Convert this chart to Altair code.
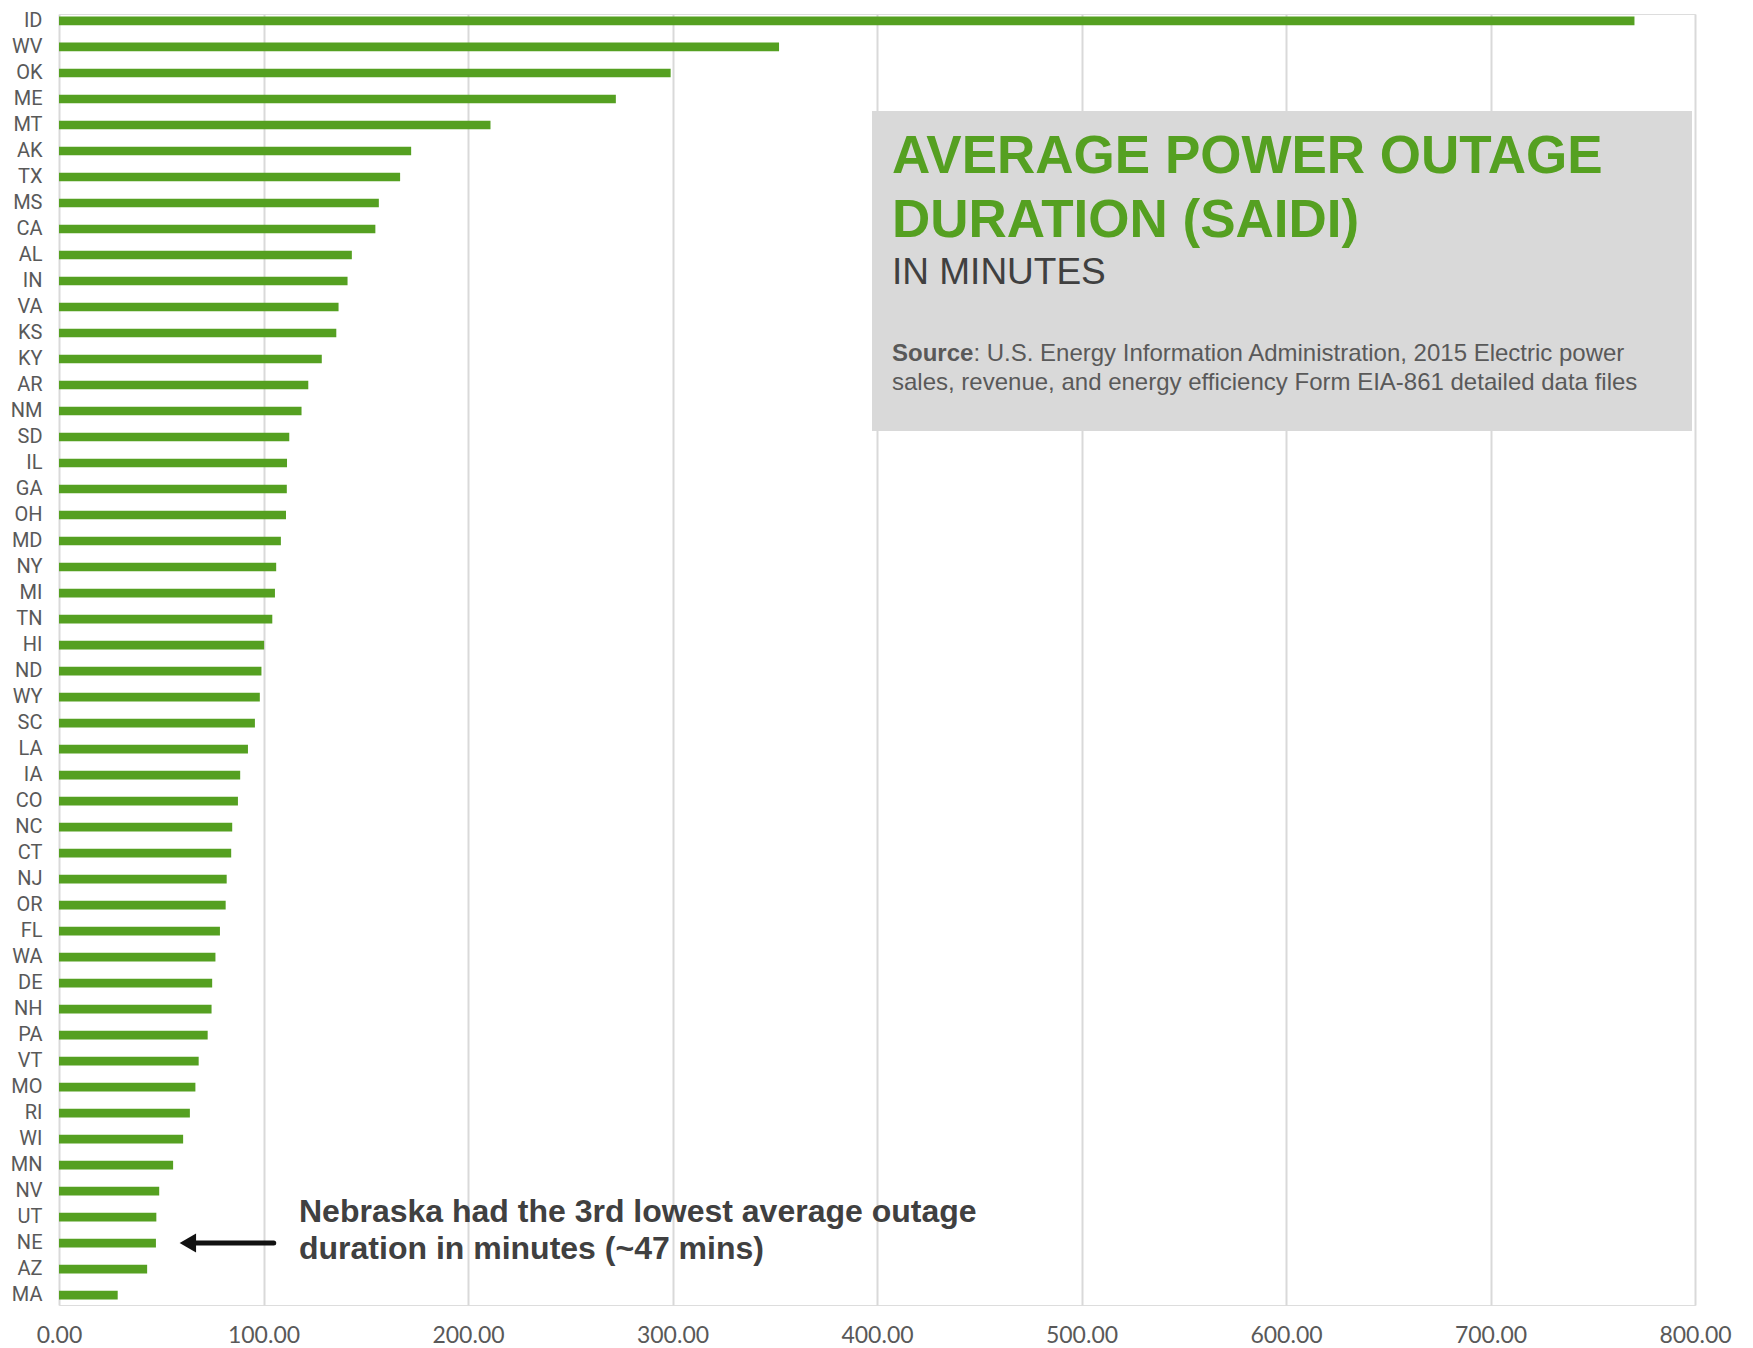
import altair as alt
import pandas as pd

states = ["ID", "WV", "OK", "ME", "MT", "AK", "TX", "MS", "CA", "AL",
          "IN", "VA", "KS", "KY", "AR", "NM", "SD", "IL", "GA", "OH",
          "MD", "NY", "MI", "TN", "HI", "ND", "WY", "SC", "LA", "IA",
          "CO", "NC", "CT", "NJ", "OR", "FL", "WA", "DE", "NH", "PA",
          "VT", "MO", "RI", "WI", "MN", "NV", "UT", "NE", "AZ", "MA"]
saidi = [770.4, 352.1, 299.1, 272.3, 211.0, 172.2, 166.8, 156.4, 154.7, 143.2,
         141.1, 136.7, 135.6, 128.5, 121.9, 118.6, 112.6, 111.5, 111.4, 111.0,
         108.5, 106.2, 105.6, 104.3, 100.3, 99.0, 98.2, 95.8, 92.4, 88.6,
         87.5, 84.7, 84.2, 82.0, 81.5, 78.7, 76.5, 74.9, 74.6, 72.7,
         68.3, 66.7, 64.0, 60.7, 55.8, 49.0, 47.6, 47.4, 43.1, 28.7]
x_ticks = [0, 100, 200, 300, 400, 500, 600, 700, 800]

title_lines = ["AVERAGE POWER OUTAGE", "DURATION (SAIDI)"]
subtitle = "IN MINUTES"
source_bold = "Source"
source_rest = [": U.S. Energy Information Administration, 2015 Electric power",
               "sales, revenue, and energy efficiency Form EIA-861 detailed data files"]
note_lines = ["Nebraska had the 3rd lowest average outage",
              "duration in minutes (~47 mins)"]
note_state = "NE"
arrow_from = 105.0
arrow_to = 63.0

GREEN = "#55A021"
TOP = 6
W, H = 1636, 1291

df = pd.DataFrame({"state": states, "saidi": saidi})

xs = alt.Scale(domain=[0, 800], nice=False, zero=True)
ys = alt.Scale(domain=states, paddingInner=0.665, paddingOuter=0.1575, align=0.32)

bars = alt.Chart(df).mark_bar(color=GREEN).encode(
    x=alt.X("saidi:Q", scale=xs, title=None,
            axis=alt.Axis(values=x_ticks, format=".2f", grid=True, gridColor="#D9D9D9",
                          gridWidth=2, domain=False, ticks=False, tickSize=0,
                          labelFont="Lato", labelFontSize=23, labelColor="#595959",
                          labelPadding=19, labelFlush=False)),
    y=alt.Y("state:N", scale=ys, sort=states, title=None,
            axis=alt.Axis(domain=False, ticks=False, tickSize=0, grid=False,
                          labelFont="Roboto", labelFontSize=20,
                          labelColor="#595959", labelPadding=17)),
)

box = alt.Chart(pd.DataFrame({"k": [0]})).mark_rect(color="#D9D9D9").encode(
    x=alt.value(813), x2=alt.value(1633), y=alt.value(103 - TOP), y2=alt.value(423 - TOP)
)

title_df = pd.DataFrame({"t": title_lines, "yy": [164.7 - TOP, 228.7 - TOP]})
title = alt.Chart(title_df).mark_text(
    align="left", baseline="alphabetic", font="Liberation Sans", fontWeight="bold",
    fontSize=53, color=GREEN
).encode(x=alt.value(833), y=alt.Y("yy:Q", scale=None), text="t:N")

sub = alt.Chart(pd.DataFrame({"t": [subtitle]})).mark_text(
    align="left", baseline="alphabetic", font="Liberation Sans", fontSize=37,
    color="#404040"
).encode(x=alt.value(833), y=alt.value(276 - TOP), text="t:N")

src_b = alt.Chart(pd.DataFrame({"t": [source_bold]})).mark_text(
    align="left", baseline="alphabetic", font="Liberation Sans", fontWeight="bold",
    fontSize=24, color="#595959"
).encode(x=alt.value(833), y=alt.value(353 - TOP), text="t:N")

src_df = pd.DataFrame({"t": source_rest, "xx": [833 + 81.4, 833],
                       "yy": [353 - TOP, 382 - TOP]})
src_r = alt.Chart(src_df).mark_text(
    align="left", baseline="alphabetic", font="Liberation Sans", fontSize=24,
    color="#595959"
).encode(x=alt.X("xx:Q", scale=None), y=alt.Y("yy:Q", scale=None), text="t:N")

note_df = pd.DataFrame({"t": note_lines, "yy": [1214 - TOP, 1251 - TOP]})
note = alt.Chart(note_df).mark_text(
    align="left", baseline="alphabetic", font="Liberation Sans", fontWeight="bold",
    fontSize=32, color="#404040"
).encode(x=alt.value(240), y=alt.Y("yy:Q", scale=None), text="t:N")

arrow_df = pd.DataFrame({"state": [note_state], "a": [arrow_to], "b": [arrow_from]})
arrow_line = alt.Chart(arrow_df).mark_rule(color="#111111", strokeWidth=5, strokeCap="round").encode(
    x=alt.X("a:Q", scale=xs), x2="b:Q", y=alt.Y("state:N", scale=ys, sort=states)
)
arrow_head = alt.Chart(arrow_df).mark_point(
    shape="triangle-left", filled=True, color="#111111", opacity=1, size=360
).encode(x=alt.X("a:Q", scale=xs), y=alt.Y("state:N", scale=ys, sort=states))

chart = alt.layer(bars, box, title, sub, src_b, src_r, note, arrow_line, arrow_head).properties(
    width=W, height=H,
    autosize=alt.AutoSizeParams(type="none"),
    padding={"left": 51, "top": TOP, "right": 50, "bottom": 45},
).configure_view(stroke=None).configure(background="white")

chart.save("out.html", embed_options={"renderer": "svg", "actions": False})
